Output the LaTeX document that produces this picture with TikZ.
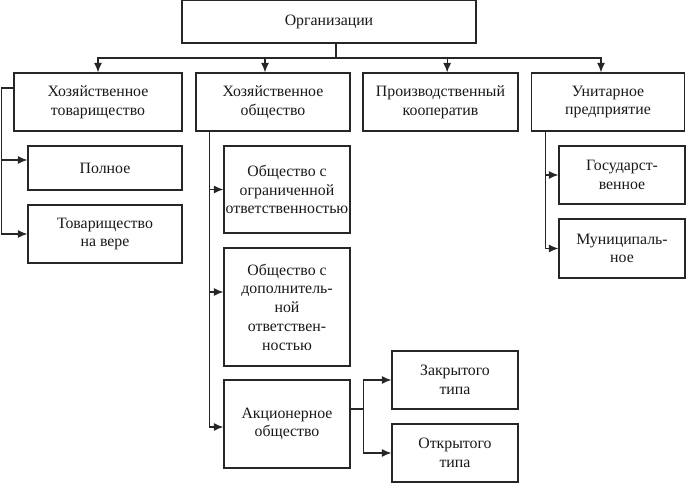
\documentclass[tikz,border=0pt]{standalone}
\usepackage{fontspec}
\setmainfont{Liberation Serif}
\usetikzlibrary{arrows.meta,positioning}
\definecolor{boxStroke}{HTML}{262626}

\begin{document}
\begin{tikzpicture}[
  x=0.03cm,y=-0.03cm,
  font=\fontsize{13.5}{16}\selectfont,text=black!90,>={Latex[length=2.8mm,width=2.4mm]},
  box/.style={rectangle,draw=boxStroke,line width=1.2pt,fill=white,inner xsep=1pt,align=center},
  link/.style={line width=1pt,draw=boxStroke},
  edge/.style={->,line width=1pt,draw=boxStroke}
]
\useasboundingbox (0,0) rectangle (686,486);
% top level and the four kinds of organisation
\node[box,minimum width=8.82cm,minimum height=1.29cm] (org) at (329,21.5) {Организации};
\node[box,minimum width=5.04cm,minimum height=1.74cm] (tov) at (98,102) {Хозяйственное\\товарищество};
\node[box,minimum width=4.62cm,minimum height=1.74cm] (obsh) at (273,102) {Хозяйственное\\общество};
\node[box,minimum width=4.65cm,minimum height=1.74cm] (koop) at (440.5,102) {Производственный\\кооператив};
\node[box,minimum width=4.59cm,minimum height=1.74cm] (unit) at (608,102) {Унитарное\\предприятие};
% partnerships
\node[box,minimum width=4.62cm,minimum height=1.32cm] (poln) at (105,168) {Полное};
\node[box,minimum width=4.62cm,minimum height=1.74cm] (vera) at (105,234) {Товарищество\\на вере};
% companies
\node[box,minimum width=3.78cm,minimum height=2.61cm] (ooo) at (287,189.5) {Общество с\\ограниченной\\ответственностью};
\node[box,minimum width=3.78cm,minimum height=3.54cm] (odo) at (287,307) {Общество с\\дополнитель-\\ной\\ответствен-\\ностью};
\node[box,minimum width=3.78cm,minimum height=2.64cm] (ao) at (287,424) {Акционерное\\общество};
\node[box,minimum width=3.78cm,minimum height=1.74cm] (zak) at (455,380) {Закрытого\\типа};
\node[box,minimum width=3.78cm,minimum height=1.74cm] (otk) at (455,453) {Открытого\\типа};
% unitary enterprises
\node[box,minimum width=3.78cm,minimum height=1.74cm] (gos) at (622,175) {Государст-\\венное};
\node[box,minimum width=3.78cm,minimum height=1.77cm] (mun) at (622,248.5) {Муниципаль-\\ное};
\coordinate (bus) at (336,58);
\draw[link] (org.south -| bus) -- (bus);
\draw[edge] (bus) -| (tov.north);
\draw[edge] (bus) -| ([xshift=-0.24cm]obsh.north);
\draw[edge] (bus) -| ([xshift=0.2cm]koop.north);
\draw[edge] (bus) -| ([xshift=-0.21cm]unit.north);
\draw[edge] ([yshift=0.42cm]tov.west) -- ++(-12,0) |- ([yshift=0.24cm]poln.west);
\draw[edge] ([yshift=0.42cm]tov.west) -- ++(-12,0) |- (vera.west);
\draw[edge] ([xshift=0.42cm]obsh.south west) |- (ooo.west);
\draw[edge] ([xshift=0.42cm]obsh.south west) |- ([yshift=0.45cm]odo.west);
\draw[edge] ([xshift=0.42cm]obsh.south west) |- ([yshift=-0.09cm]ao.west);
\draw[edge] ([yshift=0.45cm]ao.east) -- ++(13,0) |- (zak.west);
\draw[edge] ([yshift=0.45cm]ao.east) -- ++(13,0) |- (otk.west);
\draw[edge] ([xshift=0.45cm]unit.south west) |- (gos.west);
\draw[edge] ([xshift=0.45cm]unit.south west) |- (mun.west);
\end{tikzpicture}
\end{document}
